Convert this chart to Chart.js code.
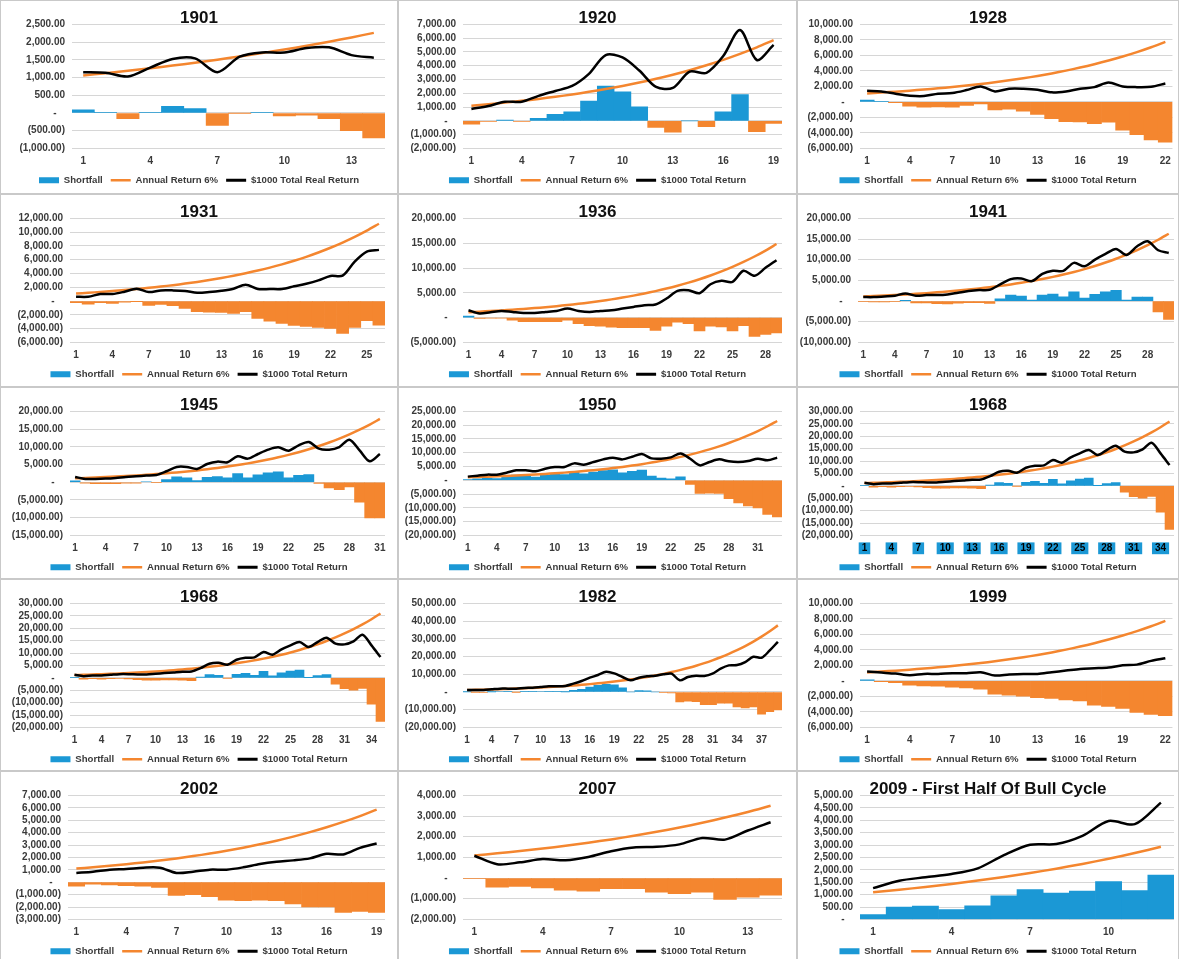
<!DOCTYPE html>
<html>
<head>
<meta charset="utf-8">
<script src="https://cdn.jsdelivr.net/npm/chart.js@4/dist/chart.umd.min.js"></script>
<style>
html,body{margin:0;padding:0;background:#fff;}
body{width:1179px;height:959px;overflow:hidden;position:relative;}
.panel{position:absolute;box-sizing:border-box;border:1px solid #c9c9c9;background:#fff;overflow:hidden;}
.panel canvas{position:absolute;left:0;top:0;}
</style>
</head>
<body>
<script>
// ---------- category labels ----------
const YEAR_INDEX = [1,2,3,4,5,6,7,8,9,10,11,12,13,14,15,16,17,18,19,20,21,22,23,24,25,26,27,28,29,30,31,32,33,34,35,36,37,38,39];

// ---------- "Annual Return 6%" series ----------
const ANNUAL_REAL_6 = [1060,1124,1191,1262,1338,1419,1504,1594,1689,1791,1898,2012,2133,2261];
const ANNUAL_NOMINAL = [1098,1204,1322,1451,1592,1747,1918,2104,2309,2535,2782,3053,3350,3677,4035,4428,4860,5333,5853,6424,7050,7737,8491,9318,10227,11223,12317,13517,14835,16281,17868,19609,21520,23618,25920,28445,31218,34260,37600];
const ANNUAL_RECENT = [1094,1196,1308,1430,1564,1711,1871,2046,2238,2447,2676,2927,3200,3500];

// ---------- "$1000 Total Return" series ----------
const TOTAL_1901 = [1150,1135,1030,1282,1525,1540,1150,1590,1710,1706,1833,1852,1633,1560];
const TOTAL_1920 = [860,1075,1385,1385,1815,2170,2530,3410,4770,4600,3650,2460,2390,3580,3485,4700,6590,4415,5510];
const TOTAL_1928 = [1440,1355,1060,805,760,1060,1145,1525,1990,1355,1695,1695,1570,1230,1355,1695,1905,2500,1990,1905,1950,2370];
const TOTAL_1931 = [630,630,1020,1020,1360,1800,1310,1550,1550,1460,1210,1310,1500,1800,2380,1750,1750,1750,2140,2520,3010,3640,3690,5730,7180,7430];
const TOTAL_1936 = [1480,810,1080,1350,1140,940,940,1140,1350,1820,1350,1140,1350,1480,1820,2150,2490,2630,3840,5390,5520,4920,6730,7410,7200,9430,8420,10030,11580];
const TOTAL_1941 = [960,960,1120,1290,1850,1290,1450,1450,1610,2010,2410,2650,2730,4020,5300,5460,4820,6590,7310,7310,9240,8430,10040,11410,12610,11160,13250,14460,12290,11650];
const TOTAL_1945 = [1500,940,940,1030,1220,1500,1690,1880,2070,3100,4320,4320,3760,5160,5820,5630,7320,6670,7980,9200,9860,8920,10420,11360,9480,9200,9950,12020,9010,5920,7980];
const TOTAL_1950 = [1330,1690,2050,2050,2770,3610,3610,3250,4220,4820,4820,6140,5660,6630,7590,8190,7590,8550,9520,7950,7830,8310,9760,7830,5420,6630,7590,6870,6630,6990,7830,7230,8190];
const TOTAL_1968 = [1210,670,940,940,1210,1480,1480,1350,1350,1620,1890,2160,2430,2560,3910,5660,6060,5260,7280,8090,8220,10380,9300,11460,13070,14420,12400,14420,16170,13750,13480,14690,17390,13070,8360];
const TOTAL_1982 = [1130,1130,1130,1500,1880,1880,1880,2250,2440,2810,3190,3190,3380,4690,6190,8070,9570,11440,10510,8440,6570,8070,8820,9190,9940,10320,6570,8440,9190,9000,10320,13130,15010,15200,16890,19890,19320,23450,28330];
const TOTAL_1999 = [1200,1070,940,730,900,900,990,990,1120,690,820,900,900,1120,1330,1550,1630,1720,2020,2100,2580,2920];
const TOTAL_2002 = [750,850,1010,1070,1170,1170,750,850,1010,1010,1200,1470,1650,1760,1920,2290,2240,2770,3120];
const TOTAL_2007 = [1080,670,760,920,860,1020,1300,1480,1510,1630,1940,1860,2300,2700];
const TOTAL_2009 = [1260,1560,1700,1830,2060,2590,3010,3040,3370,3970,3840,4710];

// ---------- "Shortfall" bars (total minus annual) ----------
const GAP_1901 = [90,11,-161,20,187,121,-354,-4,21,-85,-65,-160,-500,-701];
const GAP_1920 = [-240,-30,60,-50,190,470,660,1430,2520,2100,1020,-480,-820,0,-430,650,1900,-780,-180];
const GAP_1928 = [250,80,-100,-550,-680,-640,-680,-470,-250,-1020,-930,-1190,-1610,-2160,-2540,-2580,-2800,-2630,-3640,-4240,-4920,-5210];
const GAP_1931 = [-250,-440,-250,-340,-150,-50,-630,-490,-680,-1070,-1550,-1600,-1650,-1800,-1550,-2520,-2910,-3250,-3540,-3690,-3840,-3980,-4710,-3840,-2860,-3500];
const GAP_1936 = [300,-150,-100,-100,-540,-810,-810,-810,-810,-540,-1210,-1620,-1750,-1950,-2020,-2020,-2020,-2560,-1750,-940,-1210,-2690,-1750,-1890,-2690,-1620,-3770,-3370,-3100];
const GAP_1941 = [-100,-200,-200,-150,200,-450,-470,-650,-700,-520,-370,-400,-560,560,1450,1200,240,1450,1690,1040,2250,720,1610,2250,2570,240,960,960,-2650,-4420];
const GAP_1945 = [400,-260,-380,-420,-370,-250,-230,150,-100,750,1500,1220,470,1410,1600,1220,2440,1220,2070,2630,2910,1220,1970,2160,-300,-1600,-2070,-1310,-5630,-10050,-10050];
const GAP_1950 = [232,486,728,599,1178,1863,1692,1146,1911,2285,2038,3087,2310,2953,3555,3762,2730,3217,3667,1526,780,573,1269,-1490,-4800,-4700,-4727,-6650,-8205,-9290,-10038,-12379,-13330];
const GAP_1968 = [112,-534,-382,-511,-382,-267,-438,-754,-959,-915,-892,-893,-920,-1117,300,1300,1000,-73,1400,1800,1000,2600,800,2000,2700,3150,83,920,1340,-2540,-4420,-5000,-4300,-10650,-17600];
const GAP_1982 = [32,-74,-192,49,288,133,-38,146,131,275,408,137,30,900,1500,2800,3700,4300,4100,2300,0,800,600,0,-200,-600,-5600,-5250,-5440,-7130,-7130,-6380,-6380,-8440,-9000,-8440,-12570,-11070,-10130];
const GAP_1999 = [150,-100,-215,-560,-640,-690,-815,-900,-1070,-1720,-1850,-1970,-2150,-2270,-2450,-2580,-3130,-3300,-3560,-4080,-4330,-4500];
const GAP_2002 = [-320,-160,-210,-270,-320,-430,-1070,-1010,-1170,-1440,-1490,-1440,-1490,-1760,-2000,-2000,-2430,-2350,-2430];
const GAP_2007 = [-20,-440,-400,-480,-590,-635,-510,-510,-680,-750,-680,-1030,-920,-830];
const GAP_2009 = [190,495,535,400,550,950,1200,1060,1140,1520,1160,1790];

// ---------- titles / legend texts ----------
const TITLES = ['1901','1920','1928','1931','1936','1941','1945','1950','1968','1968','1982','1999','2002','2007','2009 - First Half Of Bull Cycle'];
const LEGEND_SHORTFALL = 'Shortfall';
const LEGEND_ANNUAL = 'Annual Return 6%';
const LEGEND_TOTAL = '$1000 Total Return';
const LEGEND_TOTAL_REAL = '$1000 Total Real Return';

// ---------- y-axis ranges ----------
const Y_MIN  = [-1000,-2000,-6000,-6000,-5000,-10000,-15000,-20000,-20000,-20000,-20000,-6000,-3000,-2000,0];
const Y_MAX  = [2500,7000,10000,12000,20000,20000,20000,25000,30000,30000,50000,10000,7000,4000,5000];
const Y_STEP = [500,1000,2000,2000,5000,5000,5000,5000,5000,5000,10000,2000,1000,1000,500];

const SERIES = [
  [TOTAL_1901, GAP_1901, ANNUAL_REAL_6],
  [TOTAL_1920, GAP_1920, ANNUAL_NOMINAL],
  [TOTAL_1928, GAP_1928, ANNUAL_NOMINAL],
  [TOTAL_1931, GAP_1931, ANNUAL_NOMINAL],
  [TOTAL_1936, GAP_1936, ANNUAL_NOMINAL],
  [TOTAL_1941, GAP_1941, ANNUAL_NOMINAL],
  [TOTAL_1945, GAP_1945, ANNUAL_NOMINAL],
  [TOTAL_1950, GAP_1950, ANNUAL_NOMINAL],
  [TOTAL_1968, GAP_1968, ANNUAL_NOMINAL],
  [TOTAL_1968, GAP_1968, ANNUAL_NOMINAL],
  [TOTAL_1982, GAP_1982, ANNUAL_NOMINAL],
  [TOTAL_1999, GAP_1999, ANNUAL_NOMINAL],
  [TOTAL_2002, GAP_2002, ANNUAL_NOMINAL],
  [TOTAL_2007, GAP_2007, ANNUAL_RECENT],
  [TOTAL_2009, GAP_2009, ANNUAL_RECENT]
];

// ---------- layout / style ----------
const BLUE = '#1B98D5';
const ORANGE = '#F4862F';
const TEXT = '#3a3a3a';
const FONT = '"Liberation Sans", Arial, sans-serif';
const COLS = [{x:0,w:398,left:69,right:384},{x:398,w:399,left:64,right:383},{x:797,w:382,left:62,right:376}];
const ROWS = [{y:0,h:194},{y:194,h:193},{y:387,h:192},{y:579,h:192},{y:771,h:194}];
const LEFT_OVERRIDE = {0:71, 5:60, 12:67};
const CANVAS_H = 194;

function acct(v){
  if (v === 0) return '-   ';
  const s = Math.abs(v).toLocaleString('en-US',{minimumFractionDigits:2,maximumFractionDigits:2});
  return v < 0 ? '(' + s + ')' : s;
}

Chart.defaults.font.family = FONT;

for (let i = 0; i < TITLES.length; i++) {
  const col = COLS[i % 3], row = ROWS[Math.floor(i / 3)];
  const div = document.createElement('div');
  div.className = 'panel';
  div.style.left = col.x + 'px'; div.style.top = row.y + 'px';
  div.style.width = col.w + 'px'; div.style.height = row.h + 'px';
  document.body.appendChild(div);
  const cw = col.w - 2;
  const cv = document.createElement('canvas');
  cv.width = cw; cv.height = CANVAS_H;
  cv.style.width = cw + 'px'; cv.style.height = CANVAS_H + 'px';
  div.appendChild(cv);

  const [total, gap, annualAll] = SERIES[i];
  const n = total.length;
  const labels = YEAR_INDEX.slice(0, n);
  const annual = annualAll.slice(0, n);
  const plotLeft = (LEFT_OVERRIDE[i] !== undefined ? LEFT_OVERRIDE[i] : col.left);
  const rightPad = cw - col.right;
  const backdrop = (i === 8);
  const totalLabel = (i === 0) ? LEGEND_TOTAL_REAL : LEGEND_TOTAL;

  new Chart(cv, {
    type: 'bar',
    data: {
      labels: labels,
      datasets: [
        { type:'bar', label:LEGEND_SHORTFALL, data:gap, order:3,
          backgroundColor: gap.map(v => v < 0 ? ORANGE : BLUE),
          borderWidth:0, barPercentage:1, categoryPercentage:1 },
        { type:'line', label:LEGEND_ANNUAL, data:annual, order:2,
          borderColor:ORANGE, backgroundColor:ORANGE, borderWidth:2.5,
          pointRadius:0, tension:0.3, fill:false },
        { type:'line', label:totalLabel, data:total, order:1,
          borderColor:'#000', backgroundColor:'#000', borderWidth:2.5,
          pointRadius:0, tension:0.3, fill:false }
      ]
    },
    options: {
      responsive:false, animation:false, devicePixelRatio:1,
      layout:{ padding:{left:0,right:0,top:0,bottom:0} },
      plugins:{
        tooltip:{enabled:false},
        title:{ display:true, text:TITLES[i], color:'#111',
          font:{size:17, weight:'bold', family:FONT},
          padding:{top:7,bottom:-4} },
        legend:{ display:true, position:'bottom',
          labels:{
            font:{size:9.6, weight:'bold', family:FONT}, color:TEXT,
            usePointStyle:true, pointStyleWidth:20, boxWidth:20, boxHeight:6, padding:8,
            generateLabels: () => [
              {text:LEGEND_SHORTFALL, fillStyle:BLUE, strokeStyle:BLUE, lineWidth:0, pointStyle:'rect', hidden:false, datasetIndex:0, fontColor:TEXT},
              {text:LEGEND_ANNUAL, fillStyle:ORANGE, strokeStyle:ORANGE, lineWidth:2.5, pointStyle:'line', hidden:false, datasetIndex:1, fontColor:TEXT},
              {text:totalLabel, fillStyle:'#000', strokeStyle:'#000', lineWidth:3, pointStyle:'line', hidden:false, datasetIndex:2, fontColor:TEXT}
            ]
          }
        }
      },
      scales:{
        x:{
          grid:{display:false, drawTicks:false}, border:{display:false},
          ticks:{
            autoSkip:false, maxRotation:0, minRotation:0, padding:7,
            font:{size:10, weight:'bold', family:FONT}, color: backdrop ? '#000' : TEXT,
            callback:function(v, idx){ return idx % 3 === 0 ? String(this.getLabelForValue(v)) : ''; },
            showLabelBackdrop: backdrop ? (c => c.index % 3 === 0) : false,
            backdropColor: BLUE, backdropPadding:{top:0,bottom:0,left:3,right:3}
          },
          afterFit: s => { s.height = 19; }
        },
        y:{
          position:'left', min:Y_MIN[i], max:Y_MAX[i],
          grid:{color:'#d6d6d6', lineWidth:1, drawTicks:false}, border:{display:false},
          ticks:{ stepSize:Y_STEP[i], autoSkip:false, padding:7, font:{size:10, weight:'bold', family:FONT}, color:TEXT,
            callback: v => acct(v) },
          afterFit: s => { s.width = plotLeft; }
        },
        yR:{
          position:'right', display:true,
          grid:{display:false, drawTicks:false}, border:{display:false},
          ticks:{display:false},
          afterFit: s => { s.width = rightPad; }
        }
      }
    }
  });
}
</script>
</body>
</html>
